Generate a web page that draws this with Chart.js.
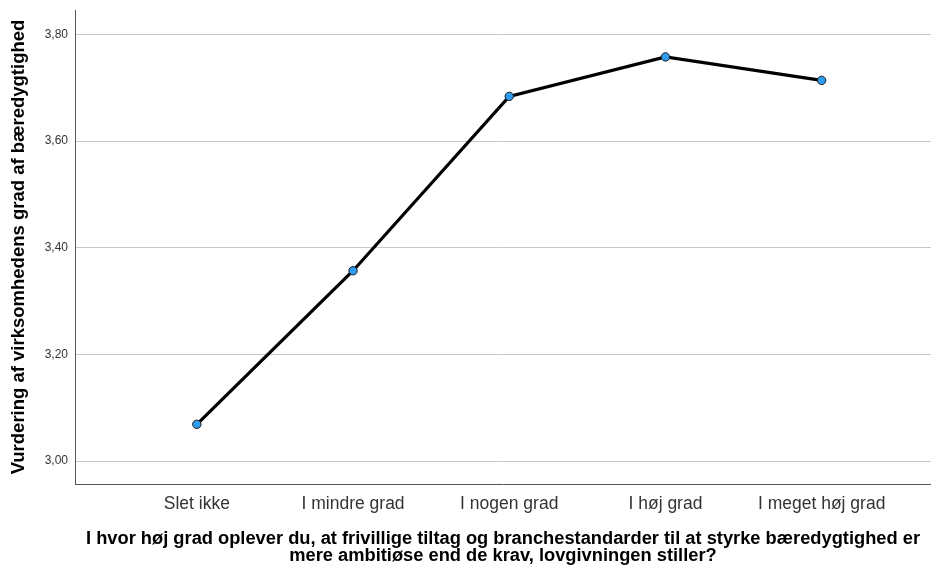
<!DOCTYPE html>
<html>
<head>
<meta charset="utf-8">
<script src="https://cdn.jsdelivr.net/npm/chart.js@4/dist/chart.umd.min.js"></script>
<style>
  html, body { margin: 0; padding: 0; background: #fff; }
  #wrap { width: 931px; height: 567px; }
</style>
</head>
<body>
<div id="wrap"><canvas id="grafico" width="931" height="567"></canvas></div>
<script>
// svarkategorier og gennemsnit
const kategorier = ["Slet ikke", "I mindre grad", "I nogen grad", "I høj grad", "I meget høj grad"];
const gennemsnit = [3.069, 3.357, 3.684, 3.758, 3.714];
const yTicks = [3.00, 3.20, 3.40, 3.60, 3.80];

const yTitel = "Vurdering af virksomhedens grad af bæredygtighed";
const xTitel = [
    "I hvor høj grad oplever du, at frivillige tiltag og branchestandarder til at styrke bæredygtighed er",
    "mere ambitiøse end de krav, lovgivningen stiller?"
];

const skrift = "'Liberation Sans', Arial, sans-serif";

const punkter = gennemsnit.map((v, i) => ({ x: i, y: v }));

// fjern den ekstra luft som Chart.js giver til tick-tekster
function nulPadding(axis) {
    axis.paddingTop = 0;
    axis.paddingBottom = 0;
    axis.paddingLeft = 0;
    axis.paddingRight = 0;
}

new Chart(document.getElementById("grafico"), {
    type: "line",
    data: {
        datasets: [{
            data: punkter,
            borderColor: "#000",
            borderWidth: 3.2,
            pointRadius: 4.2,
            pointBorderWidth: 1,
            pointBackgroundColor: "#2d9cf0",
            pointBorderColor: "#1a1a1a",
            tension: 0,
            fill: false
        }]
    },
    options: {
        responsive: false,
        animation: false,
        layout: {
            autoPadding: false,
            padding: { top: 10, right: 0, left: 0, bottom: 0 }
        },
        plugins: {
            legend: { display: false },
            tooltip: { enabled: false }
        },
        scales: {
            x: {
                type: "linear",
                min: -0.78,
                max: 4.70,
                afterBuildTicks: axis => {
                    axis.ticks = kategorier.map((k, i) => ({ value: i }));
                },
                afterFit: axis => {
                    axis.height = 83;
                    nulPadding(axis);
                },
                grid: { display: false, drawTicks: false },
                border: { display: true, color: "#555", width: 1 },
                ticks: {
                    padding: 10,
                    color: "#333",
                    font: { family: skrift, size: 17.5 },
                    callback: v => kategorier[v]
                },
                title: {
                    display: true,
                    text: xTitel,
                    color: "#000",
                    font: { family: skrift, size: 18.3, weight: "bold", lineHeight: "17.5px" },
                    padding: { top: 0, bottom: 2 }
                }
            },
            y: {
                min: 2.957,
                max: 3.846,
                afterBuildTicks: axis => {
                    axis.ticks = yTicks.map(v => ({ value: v }));
                },
                afterFit: axis => {
                    axis.width = 75;
                    nulPadding(axis);
                },
                grid: { color: "#c8c8c8", lineWidth: 1, drawTicks: false },
                border: { display: true, color: "#555", width: 1 },
                ticks: {
                    padding: 7,
                    color: "#333",
                    font: { family: skrift, size: 12 },
                    callback: v => v.toFixed(2).replace(".", ",")
                },
                title: {
                    display: true,
                    text: yTitel,
                    color: "#000",
                    font: { family: skrift, size: 18.5, weight: "bold" },
                    padding: { top: 8, bottom: 0 }
                }
            }
        }
    }
});
</script>
</body>
</html>
